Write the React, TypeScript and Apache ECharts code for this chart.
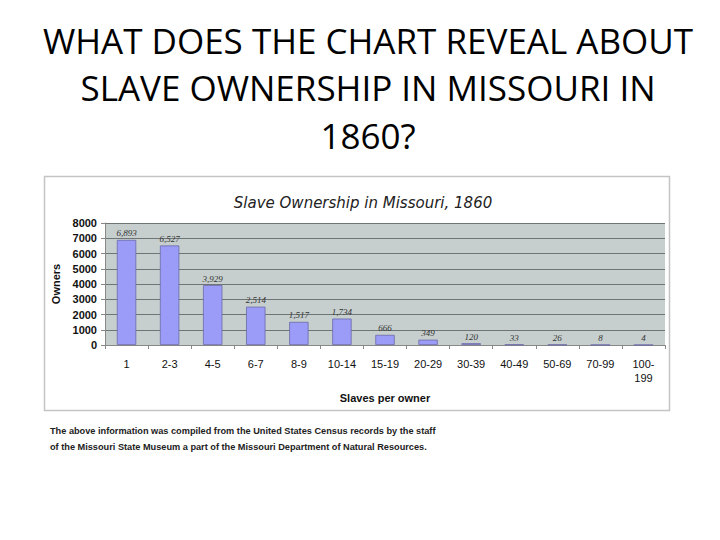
import React, { useEffect, useRef } from "react";
import * as echarts from "echarts";

const categories = ["1", "2-3", "4-5", "6-7", "8-9", "10-14", "15-19", "20-29", "30-39", "40-49", "50-69", "70-99", "100-199"];
const owners = [6893, 6527, 3929, 2514, 1517, 1734, 666, 349, 120, 33, 26, 8, 4];
const slideTitleLines = ["WHAT DOES THE CHART REVEAL ABOUT", "SLAVE OWNERSHIP IN MISSOURI IN", "1860?"];
const chartTitle = "Slave Ownership in Missouri, 1860";
const footnoteLines = [
  "The above information was compiled from the United States Census records by the staff",
  "of the Missouri State Museum a part of the Missouri Department of Natural Resources.",
];

export default function App() {
  const ref = useRef<HTMLDivElement>(null);
  useEffect(() => {
    if (!ref.current) return;
    const chart = echarts.init(ref.current, null, { renderer: "svg" });
    chart.setOption({
      animation: false,
      backgroundColor: "#ffffff",
      graphic: [
        {
          type: "rect",
          z: -1,
          shape: { x: 44.5, y: 176.5, width: 625, height: 234 },
          style: { fill: "#ffffff", stroke: "#c4c4c4", lineWidth: 1.5 },
        },
        ...slideTitleLines.map((t, i) => ({
          type: "text",
          x: 368,
          y: 40 + i * 47.5,
          style: {
            text: t,
            fill: "#000000",
            font: "35px 'Open Sans', sans-serif",
            align: "center",
            verticalAlign: "middle",
          },
        })),
        ...footnoteLines.map((t, i) => ({
          type: "text",
          x: 50,
          y: 431 + i * 16,
          style: {
            text: t,
            fill: "#222222",
            font: "600 9.2px 'Liberation Sans', Arial, sans-serif",
            align: "left",
            verticalAlign: "middle",
          },
        })),
      ],
      title: {
        text: chartTitle,
        left: 358,
        top: 190,
        textAlign: "center",
        textStyle: {
          fontFamily: "'DejaVu Sans', Verdana, sans-serif",
          fontStyle: "italic",
          fontWeight: "normal",
          fontSize: 15,
          color: "#222222",
        },
      },
      grid: {
        left: 105,
        right: 55,
        top: 223,
        bottom: 195,
        show: true,
        backgroundColor: "#c6cfce",
        borderWidth: 0,
      },
      xAxis: {
        type: "category",
        data: categories,
        name: "Slaves per owner",
        nameLocation: "middle",
        nameGap: 47,
        nameTextStyle: {
          fontFamily: "'Liberation Sans', Arial, sans-serif",
          fontWeight: "bold",
          fontSize: 11,
          color: "#111111",
        },
        axisLine: { lineStyle: { color: "#888888", width: 1 } },
        axisTick: { show: true, length: 4, lineStyle: { color: "#888888" } },
        axisLabel: {
          interval: 0,
          margin: 12,
          fontFamily: "'Liberation Sans', Arial, sans-serif",
          fontSize: 11,
          color: "#111111",
          lineHeight: 14,
          formatter: (v: string) => (v === "100-199" ? "100-\n199" : v),
        },
      },
      yAxis: {
        type: "value",
        min: 0,
        max: 8000,
        interval: 1000,
        name: "Owners",
        nameLocation: "middle",
        nameGap: 38,
        nameRotate: 90,
        nameTextStyle: {
          fontFamily: "'Liberation Sans', Arial, sans-serif",
          fontWeight: "bold",
          fontSize: 11,
          color: "#111111",
        },
        axisLine: { show: true, lineStyle: { color: "#888888" } },
        axisTick: { show: true, length: 4, lineStyle: { color: "#888888" } },
        splitLine: { lineStyle: { color: "#6f7575", width: 1 } },
        axisLabel: {
          margin: 8,
          fontFamily: "'Liberation Sans', Arial, sans-serif",
          fontWeight: "bold",
          fontSize: 11,
          color: "#111111",
          formatter: (v: number) => String(v),
        },
      },
      series: [
        {
          type: "bar",
          data: owners,
          barWidth: "45%",
          itemStyle: { color: "#9b9bf8", borderColor: "#6a6aa8", borderWidth: 0.8 },
          label: {
            show: true,
            position: "top",
            distance: 2,
            fontFamily: "'Liberation Serif', 'Times New Roman', serif",
            fontStyle: "italic",
            fontSize: 9,
            color: "#333333",
            formatter: (p: any) => Number(p.value).toLocaleString("en-US"),
          },
        },
      ],
    });
    return () => chart.dispose();
  }, []);
  return (
    <div
      ref={ref}
      style={{ position: "fixed", left: 0, top: 0, width: 720, height: 540 }}
    />
  );
}
